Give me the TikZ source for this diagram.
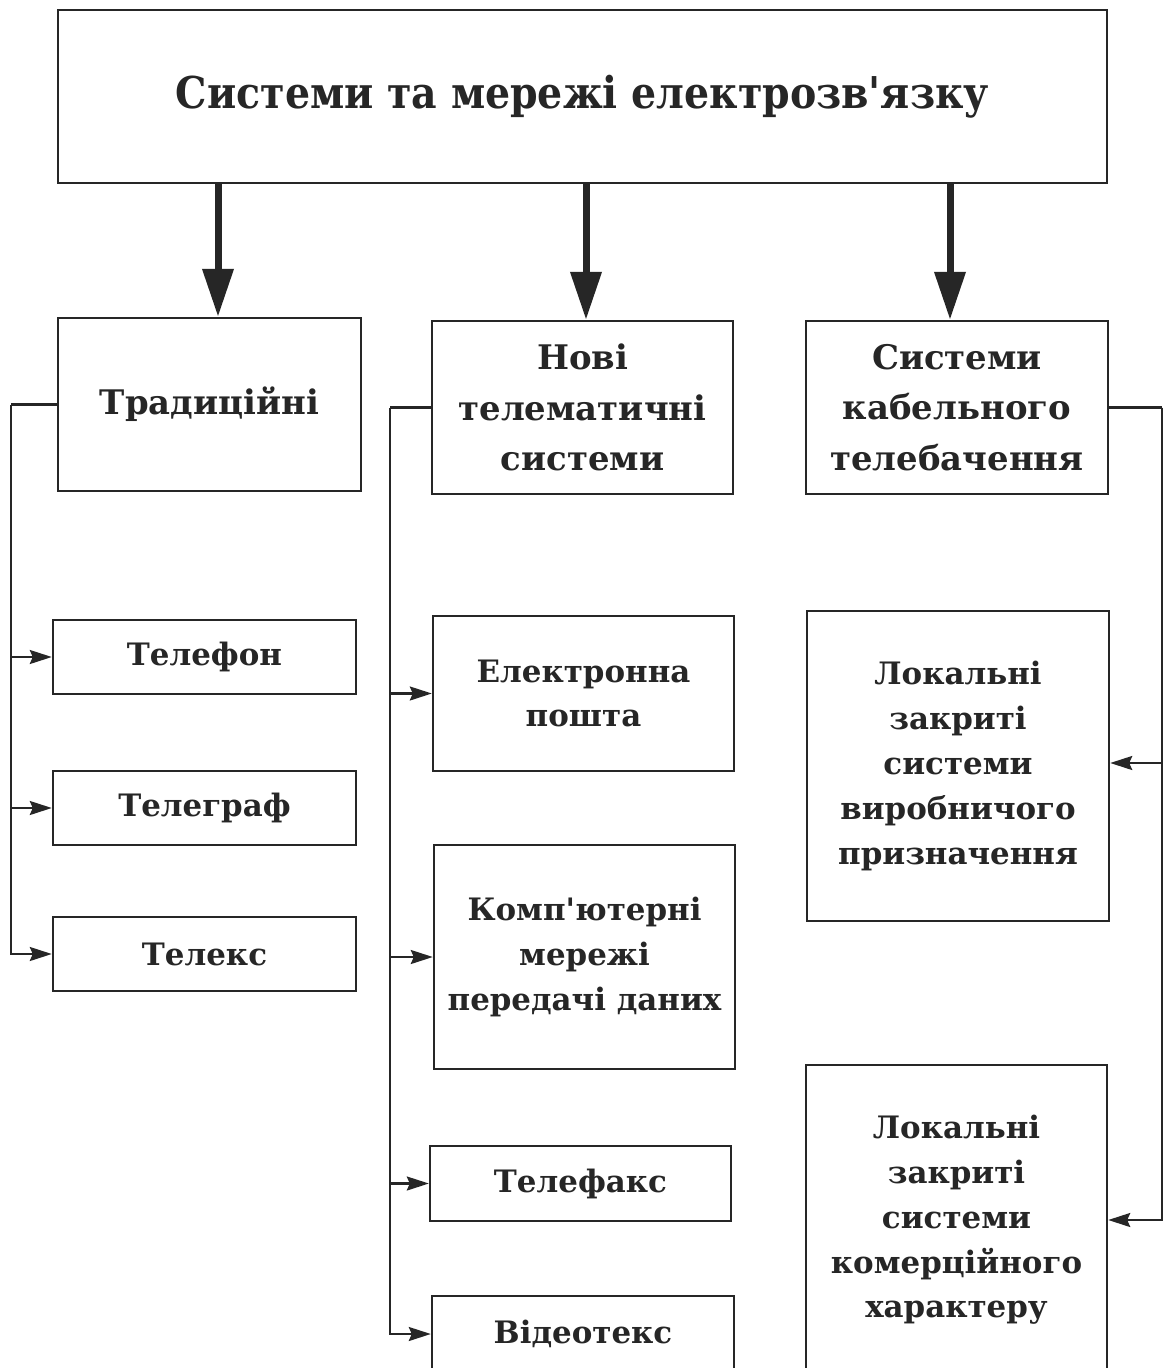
\documentclass[tikz,border=0pt]{standalone}
\usepackage{fontspec}
\setmainfont{DejaVu Serif}
\newfontfamily\titlefont{DejaVu Serif Condensed}
\newfontfamily\plainserif{DejaVu Serif}
\usetikzlibrary{arrows.meta}
\tikzset{
  box/.style={draw=black!85, line width=2.4bp, rectangle, inner sep=0pt, align=center, text=black!85,
    font=\plainserif\fontsize{31}{45}\selectfont\bfseries},
  headbox/.style={box, font=\plainserif\fontsize{34}{51}\selectfont\bfseries},
  bigarrow/.style={line width=7bp, draw=black!85, -{Triangle[length=48bp,width=30bp]}},
  bus/.style={line width=2.2bp, draw=black!85, -{Stealth[length=22bp,width=14bp,inset=3bp]}},
  busline/.style={line width=2.2bp, draw=black!85}
}
\begin{document}
\begin{tikzpicture}[x=1bp,y=-1bp]
\useasboundingbox (0,0) rectangle (1163,1368);
\fill[white] (0,0) rectangle (1163,1368);
% title
\node[box, minimum width=1049bp, minimum height=173bp, font=\titlefont\fontsize{44}{55}\selectfont\bfseries] (title) at (582.5,96.5) {Системи та мережі електрозв'язку};
% headers
\node[headbox, minimum width=303bp, minimum height=173bp] (trad) at (209.5,404.5) {Традиційні};
\node[headbox, minimum width=301bp, minimum height=173bp] (new) at (582.5,407.5) {Нові\\телематичні\\системи};
\node[headbox, minimum width=302bp, minimum height=173bp] (cable) at (957,407.5) {Системи\\кабельного\\телебачення};
% left column
\node[box, minimum width=303bp, minimum height=74bp] (tel) at (204.5,657) {Телефон};
\node[box, minimum width=303bp, minimum height=74bp] (tlg) at (204.5,808) {Телеграф};
\node[box, minimum width=303bp, minimum height=74bp] (tlx) at (204.5,954) {Телекс};
% middle column
\node[box, minimum width=301bp, minimum height=155bp] (email) at (583.5,693.5) {Електронна\\пошта};
\node[box, minimum width=301bp, minimum height=224bp] (comp) at (584.5,957) {Комп'ютерні\\мережі\\передачі даних};
\node[box, minimum width=301bp, minimum height=75bp] (fax) at (580.5,1183.5) {Телефакс};
\node[box, minimum width=302bp, minimum height=76bp] (video) at (583,1334) {Відеотекс};
% right column
\node[box, minimum width=302bp, minimum height=310bp] (loc1) at (958,766) {Локальні\\закриті\\системи\\виробничого\\призначення};
\node[box, minimum width=301bp, minimum height=310bp] (loc2) at (956.5,1220) {Локальні\\закриті\\системи\\комерційного\\характеру};
% thick arrows
\draw[bigarrow] ([xshift=8.5bp]trad.north |- title.south) -- ([xshift=8.5bp]trad.north);
\draw[bigarrow] ([xshift=3.5bp]new.north |- title.south) -- ([xshift=3.5bp]new.north);
\draw[bigarrow] ([xshift=-7bp]cable.north |- title.south) -- ([xshift=-7bp]cable.north);
% left bus
\coordinate (lb) at ([xshift=-46bp]trad.west);
\draw[busline] (trad.west) -- (lb);
\draw[bus] (lb) |- (tel.west);
\draw[bus] (lb) |- (tlg.west);
\draw[bus] (lb) |- (tlx.west);
% middle bus
\coordinate (mb) at ([xshift=-41bp]new.west);
\draw[busline] (new.west) -- (mb);
\draw[bus] (mb) |- (email.west);
\draw[bus] (mb) |- (comp.west);
\draw[bus] (mb) |- (fax.west);
\draw[bus] (mb) |- (video.west);
% right bus
\coordinate (rb) at ([xshift=53bp]cable.east);
\draw[busline] (cable.east) -- (rb);
\draw[bus] (rb) |- ([yshift=3bp]loc1.east);
\draw[bus] (rb) |- (loc2.east);
\end{tikzpicture}
\end{document}
